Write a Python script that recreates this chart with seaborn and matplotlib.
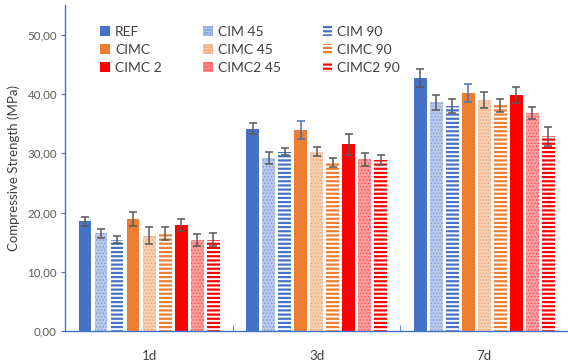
import numpy as np
import pandas as pd
import matplotlib
matplotlib.use("Agg")
import matplotlib.pyplot as plt
import seaborn as sns
from matplotlib.ticker import FuncFormatter, FixedLocator
from matplotlib.patches import Patch

ages = ["1d", "3d", "7d"]
mixes = ["REF", "CIM 45", "CIM 90", "CIMC", "CIMC 45", "CIMC 90", "CIMC 2", "CIMC2 45", "CIMC2 90"]
means = {
    "REF":      [18.5, 34.2, 42.7],
    "CIM 45":   [16.5, 29.2, 38.6],
    "CIM 90":   [15.4, 30.3, 38.0],
    "CIMC":     [18.9, 34.0, 40.2],
    "CIMC 45":  [16.1, 30.3, 39.0],
    "CIMC 90":  [16.5, 28.5, 38.1],
    "CIMC 2":   [17.9, 31.5, 39.9],
    "CIMC2 45": [15.4, 29.0, 36.8],
    "CIMC2 90": [15.4, 28.9, 32.9],
}
errors = {
    "REF":      [0.7, 0.9, 1.5],
    "CIM 45":   [0.75, 0.95, 1.3],
    "CIM 90":   [0.55, 0.55, 1.2],
    "CIMC":     [1.2, 1.5, 1.55],
    "CIMC 45":  [1.4, 0.8, 1.4],
    "CIMC 90":  [1.1, 0.75, 1.1],
    "CIMC 2":   [1.0, 1.7, 1.35],
    "CIMC2 45": [1.0, 1.1, 1.05],
    "CIMC2 90": [1.1, 0.9, 1.6],
}

BLUE, ORANGE, RED = "#4472C4", "#ED7D31", "#FF0000"
base_color = {"REF": BLUE, "CIM 45": BLUE, "CIM 90": BLUE,
              "CIMC": ORANGE, "CIMC 45": ORANGE, "CIMC 90": ORANGE,
              "CIMC 2": RED, "CIMC2 45": RED, "CIMC2 90": RED}
kind = {m: ("solid" if not (m.endswith("45") or m.endswith("90")) else ("dot" if m.endswith("45") else "stripe")) for m in mixes}

def lighten(c, f):
    r = np.array(matplotlib.colors.to_rgb(c))
    return tuple(r + (1 - r) * f)

rows = []
for m in mixes:
    for a, v in zip(ages, means[m]):
        rows.append({"age": a, "mix": m, "value": v})
df = pd.DataFrame(rows)

sns.set_style("white")
plt.rcParams["font.family"] = ["Lato", "DejaVu Sans"]
plt.rcParams["hatch.linewidth"] = 1.6

fig, ax = plt.subplots(figsize=(5.68, 3.62), dpi=100)
fig.subplots_adjust(left=0.115, right=1.0, top=0.985, bottom=0.086)

palette = {m: base_color[m] for m in mixes}
sns.barplot(data=df, x="age", y="value", hue="mix", hue_order=mixes, order=ages,
            palette=palette, width=0.86, gap=0.2, errorbar=None, ax=ax,
            saturation=1, legend=False)

handles = []
for cont, m in zip(ax.containers, mixes):
    col = base_color[m]
    for i, p in enumerate(cont.patches):
        if kind[m] == "solid":
            p.set_facecolor(col); p.set_edgecolor(col); p.set_linewidth(0)
        elif kind[m] == "dot":
            p.set_facecolor(lighten(col, 0.62)); p.set_edgecolor(lighten(col, 0.3))
            p.set_hatch("....."); p.set_linewidth(0)
            if hasattr(p, "set_hatch_linewidth"):
                p.set_hatch_linewidth(0.6)
        else:
            p.set_facecolor("white"); p.set_edgecolor(col)
            p.set_hatch("----"); p.set_linewidth(0)
        x = p.get_x() + p.get_width() / 2
        h = p.get_height()
        ecol = BLUE if (m == "CIMC" and i > 0) else "#595959"
        ax.errorbar(x, h, yerr=errors[m][i], color=ecol, capsize=2.8, elinewidth=1.1,
                    capthick=1.1, fmt="none", zorder=5)
    if kind[m] == "solid":
        hd = Patch(facecolor=col, edgecolor=col, linewidth=0)
    elif kind[m] == "dot":
        hd = Patch(facecolor=lighten(col, 0.62), edgecolor=lighten(col, 0.3), hatch=".....", linewidth=0)
    else:
        hd = Patch(facecolor="white", edgecolor=col, hatch="----", linewidth=0)
    handles.append((m, hd))

order = ["REF", "CIMC", "CIMC 2", "CIM 45", "CIMC 45", "CIMC2 45", "CIM 90", "CIMC 90", "CIMC2 90"]
hmap = dict(handles)
leg = ax.legend([hmap[k] for k in order], order, ncol=3, loc="upper left",
                bbox_to_anchor=(0.045, 0.975), frameon=False, fontsize=10,
                handlelength=0.7, handleheight=0.7, handletextpad=0.35,
                columnspacing=3.0, labelspacing=0.42)
for t in leg.get_texts():
    t.set_color("#404040")

ax.set_ylim(0, 55)
ax.set_xlim(-0.5, 2.5)
ax.yaxis.set_major_locator(FixedLocator([0, 10, 20, 30, 40, 50]))
ax.yaxis.set_major_formatter(FuncFormatter(lambda v, p: f"{v:.2f}".replace(".", ",")))
ax.set_ylabel("Compressive Strength (MPa)", fontsize=9.5, color="#404040", labelpad=5)
ax.set_xlabel("")

for s in ["top", "right"]:
    ax.spines[s].set_visible(False)
for s in ["left", "bottom"]:
    ax.spines[s].set_color(BLUE)
    ax.spines[s].set_linewidth(1.0)

ax.tick_params(axis="y", which="major", left=True, length=3, color=BLUE,
               labelsize=8.3, labelcolor="#595959", pad=3)
ax.tick_params(axis="x", which="major", bottom=False, labelsize=9.5,
               labelcolor="#404040", pad=10)
ax.set_xticks([0.5, 1.5], minor=True)
ax.tick_params(axis="x", which="minor", bottom=True, direction="in", length=4, color=BLUE)

fig.savefig("out.png", dpi=100)
